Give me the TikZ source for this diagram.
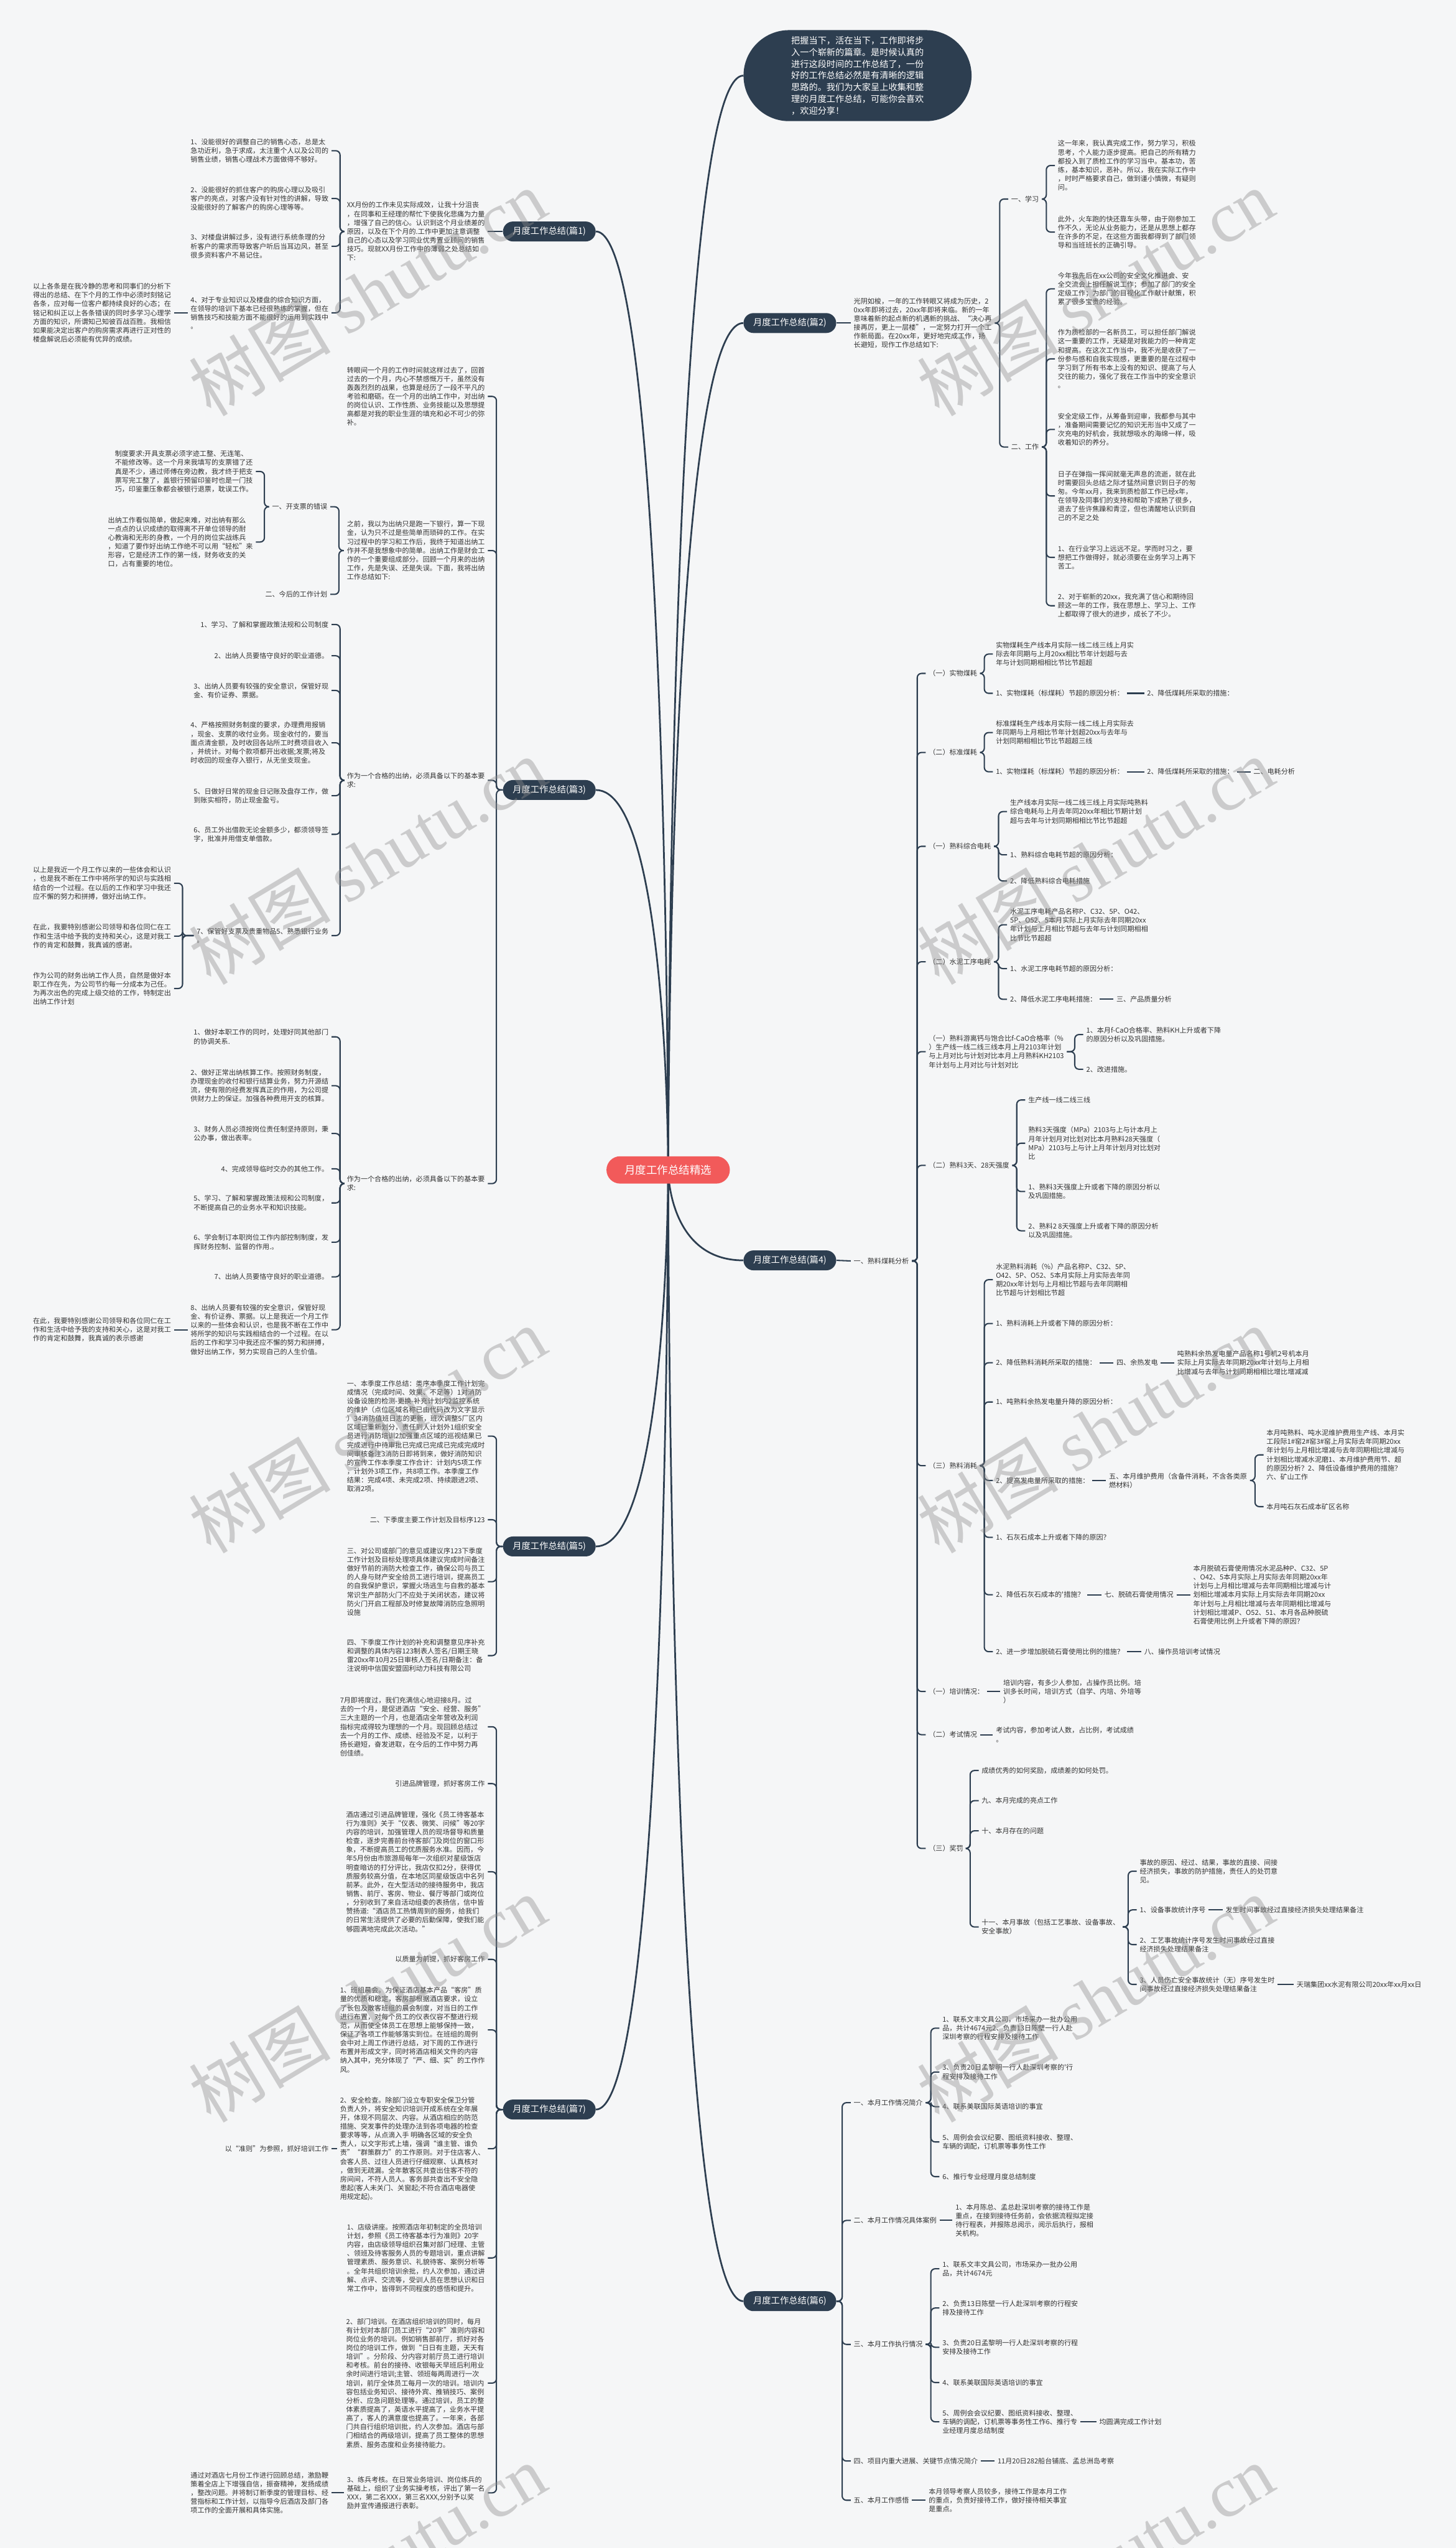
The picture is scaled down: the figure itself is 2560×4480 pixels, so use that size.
\documentclass[tikz,border=0pt]{standalone}
\usepackage{fontspec}
\usetikzlibrary{backgrounds}
\newfontfamily\cjk{Noto Sans CJK SC}
\newfontfamily\wmlatin{Liberation Serif}
\definecolor{navy}{HTML}{2D3E50}
\definecolor{rootred}{HTML}{F25A5A}
\definecolor{leaftext}{HTML}{333333}
\definecolor{paper}{HTML}{F5F6F7}
\newcommand\leaffont{\cjk\fontsize{6.9pt}{8.8pt}\selectfont}

\begin{document}
\begin{tikzpicture}[x=0.2mm, y=-0.2mm,
  leaf/.style={font=\leaffont, text=leaftext, align=left, inner xsep=1mm, inner ysep=0.5mm},
  lleaf/.style={leaf, anchor=east},
  rleaf/.style={leaf, anchor=west},
  topic/.style={fill=navy, text=white, font=\cjk\fontsize{8.9pt}{10.7pt}\selectfont, rounded corners=3.5mm, minimum width=32.6mm, minimum height=7mm, inner sep=0pt},
  rootbox/.style={fill=rootred, text=white, font=\cjk\fontsize{10.9pt}{13pt}\selectfont, rounded corners=4.8mm, minimum width=43.4mm, minimum height=9.6mm, inner sep=0pt},
  introbox/.style={fill=navy, text=white, font=\cjk\fontsize{8.85pt}{11.7pt}\selectfont, align=left, rounded corners=16mm, minimum width=80.2mm, minimum height=32mm, inner sep=0pt},
  hook/.style={draw=navy, line width=0.45mm, rounded corners=1.5mm},
  spoke/.style={draw=navy, line width=0.6mm},
  wmark/.style={text=black!45, text opacity=0.4, rotate=31, font=\cjk\fontsize{71pt}{71pt}\selectfont}]
\useasboundingbox (0,0) rectangle (2560,4480);

% centre
\node[rootbox] (root) at (1175,2057) {月度工作总结精选};
\node[introbox] (intro) at (1508,133) {把握当下，活在当下，工作即将步\\入一个崭新的篇章。是时候认真的\\进行这段时间的工作总结了，一份\\好的工作总结必然是有清晰的逻辑\\思路的。我们为大家呈上收集和整\\理的月度工作总结，可能你会喜欢\\，欢迎分享！};

\node[topic] (p1) at (966,407) {月度工作总结(篇1)};
\node[topic] (p3) at (966,1389) {月度工作总结(篇3)};
\node[topic] (p5) at (966,2719) {月度工作总结(篇5)};
\node[topic] (p7) at (966,3709) {月度工作总结(篇7)};
\node[topic] (p2) at (1389,568) {月度工作总结(篇2)};
\node[topic] (p4) at (1389,2216) {月度工作总结(篇4)};
\node[topic] (p6) at (1389,4046) {月度工作总结(篇6)};

% 篇1
\node[lleaf] (p1a) at (858,407) {XX月份的工作未见实际成效，让我十分沮丧\\，在同事和王经理的帮忙下使我化悲痛为力量\\，增强了自己的信心。认识到这个月业绩差的\\原因，以及在下个月的.工作中更加注意调整\\自己的心态以及学习同业优秀置业顾问的销售\\技巧。现就XX月份工作中的薄弱之处总结如\\下:};
\node[lleaf] (p1a1) at (583,265) {1、没能很好的调整自己的销售心态，总是太\\急功近利，急于求成，太注重个人以及公司的\\销售业绩，销售心理战术方面做得不够好。};
\node[lleaf] (p1a2) at (583,349) {2、没能很好的抓住客户的购房心理以及吸引\\客户的亮点，对客户没有针对性的讲解，导致\\没能很好的了解客户的购房心理等等。};
\node[lleaf] (p1a3) at (583,433) {3、对楼盘讲解过多，没有进行系统条理的分\\析客户的需求而导致客户听后当耳边风，甚至\\很多资料客户不易记住。};
\node[lleaf] (p1a4) at (583,550) {4、对于专业知识以及楼盘的综合知识方面，\\在领导的培训下基本已经很熟练的掌握，但在\\销售技巧和技能方面不能很好的运用到实践中\\。};
\node[lleaf] (p1a4a) at (306,550) {以上各条是在我冷静的思考和同事们的分析下\\得出的总结、在下个月的工作中必须时刻铭记\\各条，应对每一位客户都持续良好的心态；在\\铭记和纠正以上各条错误的同时多学习心理学\\方面的知识，所谓知己知彼百战百胜。我相信\\如果能决定出客户的购房需求再进行正对性的\\楼盘解说后必须能有优异的成绩。};

% 篇3
\node[lleaf] (p3a) at (858,697) {转眼间一个月的工作时间就这样过去了，回首\\过去的一个月，内心不禁感慨万千，虽然没有\\轰轰烈烈的战果，也算是经历了一段不平凡的\\考验和磨砺。在一个月的出纳工作中，对出纳\\的岗位认识、工作性质、业务技能以及思想提\\高都是对我的职业生涯的填充和必不可少的弥\\补。};
\node[lleaf] (p3b) at (858,968) {之前，我以为出纳只是跑一下银行，算一下现\\金，认为只不过是些简单而琐碎的工作。在实\\习过程中的学习和工作后，我终于知道出纳工\\作并不是我想象中的简单。出纳工作是财会工\\作的一个重要组成部分。回顾一个月来的出纳\\工作，先是失误、还是失误。下面，我将出纳\\工作总结如下:};
\node[lleaf] (p3b1) at (581,891) {一、开支票的错误};
\node[lleaf] (p3b1a) at (450,829) {制度要求:开具支票必须字迹工整、无连笔、\\不能修改等。这一个月来我填写的支票错了还\\真是不少，通过师傅在旁边教，我才终于把支\\票写完工整了，盖银行预留印鉴时也是一门技\\巧，印鉴重压象都会被银行退票，耽误工作。};
\node[lleaf] (p3b1b) at (450,953) {出纳工作看似简单，做起来难，对出纳有那么\\一点点的认识成绩的取得离不开单位领导的耐\\心教诲和无形的身教，一个月的岗位实战练兵\\，知道了要作好出纳工作绝不可以用“轻松”来\\形容，它是经济工作的第一线，财务收支的关\\口，占有重要的地位。};
\node[lleaf] (p3b2) at (581,1045) {二、今后的工作计划};
\node[lleaf] (p3c) at (858,1372) {作为一个合格的出纳，必须具备以下的基本要\\求:};
\node[lleaf] (p3c1) at (583,1098) {1、学习、了解和掌握政策法规和公司制度};
\node[lleaf] (p3c2) at (583,1153) {2、出纳人员要恪守良好的职业道德。};
\node[lleaf] (p3c3) at (583,1214) {3、出纳人员要有较强的安全意识，保管好现\\金、有价证券、票据。};
\node[lleaf] (p3c4) at (583,1306) {4、严格按照财务制度的要求，办理费用报销\\，现金、支票的收付业务。现金收付的，要当\\面点清金额，及时收回各站所工时费项目收入\\，并统计。对每个款项都开出收据;发票;将及\\时收回的现金存入银行，从无坐支现金。};
\node[lleaf] (p3c5) at (583,1399) {5、日做好日常的现金日记账及盘存工作，做\\到账实相符，防止现金盈亏。};
\node[lleaf] (p3c6) at (583,1467) {6、员工外出借款无论金额多少，都须领导签\\字，批准并用借支单借款。};
\node[lleaf] (p3c7) at (583,1645) {7、保管好支票及贵重物品5、熟悉银行业务\\。};
\node[lleaf] (p3c7a) at (306,1553) {以上是我近一个月工作以来的一些体会和认识\\，也是我不断在工作中将所学的知识与实践相\\结合的一个过程。在以后的工作和学习中我还\\应不懈的努力和拼搏，做好出纳工作。};
\node[lleaf] (p3c7b) at (306,1646) {在此，我要特别感谢公司领导和各位同仁在工\\作和生活中给予我的支持和关心，这是对我工\\作的肯定和鼓舞，我真诚的感谢。};
\node[lleaf] (p3c7c) at (306,1738) {作为公司的财务出纳工作人员，自然是做好本\\职工作在先，为公司节约每一分成本为己任。\\为再次出色的完成上级交给的工作，特制定出\\出纳工作计划};
\node[lleaf] (p3d) at (858,2081) {作为一个合格的出纳，必须具备以下的基本要\\求:};
\node[lleaf] (p3d1) at (583,1823) {1、做好本职工作的同时，处理好同其他部门\\的协调关系.};
\node[lleaf] (p3d2) at (583,1909) {2、做好正常出纳核算工作。按照财务制度，\\办理现金的收付和银行结算业务，努力开源结\\流，使有限的经费发挥真正的作用，为公司提\\供财力上的保证。加强各种费用开支的核算。};
\node[lleaf] (p3d3) at (583,1993) {3、财务人员必须按岗位责任制坚持原则，秉\\公办事，做出表率。};
\node[lleaf] (p3d4) at (583,2055) {4、完成领导临时交办的其他工作。};
\node[lleaf] (p3d5) at (583,2115) {5、学习、了解和掌握政策法规和公司制度，\\不断提高自己的业务水平和知识技能。};
\node[lleaf] (p3d6) at (583,2184) {6、学会制订本职岗位工作内部控制制度，发\\挥财务控制、监督的作用.。};
\node[lleaf] (p3d7) at (583,2245) {7、出纳人员要恪守良好的职业道德。};
\node[lleaf] (p3d8) at (583,2338) {8、出纳人员要有较强的安全意识，保管好现\\金、有价证券、票据。以上是我近一个月工作\\以来的一些体会和认识，也是我不断在工作中\\将所学的知识与实践相结合的一个过程。在以\\后的工作和学习中我还应不懈的努力和拼搏，\\做好出纳工作，努力实现自己的人生价值。};
\node[lleaf] (p3d8a) at (306,2338) {在此，我要特别感谢公司领导和各位同仁在工\\作和生活中给予我的支持和关心，这是对我工\\作的肯定和鼓舞，我真诚的表示感谢};

% 篇5
\node[lleaf] (p5a) at (858,2525) {一、本季度工作总结：类序本季度工作计划完\\成情况（完成时间、效果、不足等）1对消防\\设备设施的检测-更换-补充计划内2监控系统\\的维护（点位区域名称已由代码改为文字显示\\）34消防值班日志的更新，班次调整5厂区内\\区域已重新划分，责任到人计划外1组织安全\\员进行消防培训2加强重点区域的巡视结果已\\完成进行中待审批已完成已完成已完成完成时\\间审核备注3消防日即将到来，做好消防知识\\的宣传工作本季度工作合计：计划内5项工作\\，计划外3项工作，共8项工作。本季度工作\\结果：完成4项、未完成2项、持续跟进2项、\\取消2项。};
\node[lleaf] (p5b) at (858,2672) {二、下季度主要工作计划及目标序123};
\node[lleaf] (p5c) at (858,2781) {三、对公司或部门的意见或建议序123下季度\\工作计划及目标处理项具体建议完成时间备注\\做好节前的消防大检查工作，确保公司与员工\\的人身与财产安全给员工进行培训，提高员工\\的自我保护意识，掌握火场逃生与自救的基本\\常识生产部防火门不应处于关闭状态，建议将\\防火门开启工程部及时修复故障消防应急照明\\设施};
\node[lleaf] (p5d) at (858,2911) {四、下季度工作计划的补充和调整意见序补充\\和调整的具体内容123制表人签名/日期王晓\\雷20xx年10月25日审核人签名/日期备注：备\\注说明中信国安盟固利动力科技有限公司};

% 篇7
\node[lleaf] (p7a) at (858,3036) {7月即将度过，我们充满信心地迎接8月。过\\去的一个月，是促进酒店“安全、经营、服务”\\三大主题的一个月，也是酒店全年营收及利润\\指标完成得较为理想的一个月。现回顾总结过\\去一个月的工作、成绩、经验及不足，以利于\\扬长避短，奋发进取，在今后的工作中努力再\\创佳绩。};
\node[lleaf] (p7b) at (858,3136) {引进品牌管理，抓好客房工作};
\node[lleaf] (p7c) at (858,3291) {酒店通过引进品牌管理，强化《员工待客基本\\行为准则》关于“仪表、微笑、问候”等20字\\内容的培训，加强管理人员的现场督导和质量\\检查，逐步完善前台待客部门及岗位的窗口形\\象，不断提高员工的优质服务水准。因而，今\\年5月份由市旅游局每年一次组织对星级饭店\\明查暗访的打分评比，我店仅扣2分，获得优\\质服务较高分值，在本地区同星级饭店中名列\\前茅。此外，在大型活动的接待服务中，我店\\销售、前厅、客房、物业、餐厅等部门或岗位\\，分别收到了来自活动组委的表扬信，信中皆\\赞扬道:“酒店员工热情周到的服务，给我们\\的日常生活提供了必要的后勤保障，使我们能\\够圆满地完成此次活动。”};
\node[lleaf] (p7d) at (858,3445) {以质量为前提，抓好客房工作};
\node[lleaf] (p7e) at (858,3569) {1、班组晨会。为保证酒店基本产品“客房”质\\量的优质和稳定，客房部根据酒店要求，设立\\了长包及散客班组的晨会制度，对当日的工作\\进行布置，对每个员工的仪表仪容不整进行规\\范，从而使全体员工在思想上能够保持一致，\\保证了各项工作能够落实到位。在班组的周例\\会中对上周工作进行总结，对下周的工作进行\\布置并形成文字，同时将酒店相关文件的内容\\纳入其中，充分体现了“严、细、实”的工作作\\风。};
\node[lleaf] (p7f) at (858,3778) {2、安全检查。除部门设立专职安全保卫分管\\负责人外，将安全知识培训开成系统在全年展\\开，体现不同层次、内容。从酒店相应的防范\\措施、突发事件的处理办法到各项电器的检查\\要求等等，从点滴入手 明确各区域的安全负\\责人，以文字形式上墙，强调“谁主管、谁负\\责”“群策群力”的工作原则。对于住店客人、\\会客人员、过往人员进行仔细观察、认真核对\\，做到无疏漏。全年散客区共查出住客不符的\\房间间，不符人员人。客务部共查出不安全隐\\患起(客人未关门、关窗起;不符合酒店电器使\\用规定起)。};
\node[lleaf] (p7fa) at (583,3778) {以“准则”为参照，抓好培训工作};
\node[lleaf] (p7g) at (858,3970) {1、店级讲座。按照酒店年初制定的全员培训\\计划，参照《员工待客基本行为准则》20字\\内容，由店级领导组织召集对部门经理、主管\\、领班及待客服务人员的专题培训，重点讲解\\管理素质、服务意识、礼貌待客、案例分析等\\。全年共组织培训余批，约人次参加，通过讲\\解、点评、交流等，受训人员在思想认识和日\\常工作中，皆得到不同程度的感悟和提升。};
\node[lleaf] (p7h) at (858,4190) {2、部门培训。在酒店组织培训的同时，每月\\有计划对本部门员工进行“20字”准则内容和\\岗位业务的培训。例如销售部前厅，抓好对各\\岗位的培训工作，做到“日日有主题，天天有\\培训”。分阶段、分内容对前厅员工进行培训\\和考核。前台的接待、收银每天早班后利用业\\余时间进行培训;主管、领班每两周进行一次\\培训，前厅全体员工每月一次的培训。培训内\\容包括业务知识、接待外宾、推销技巧、案例\\分析、应急问题处理等。通过培训，员工的整\\体素质提高了，英语水平提高了，业务水平提\\高了，客人的满意度也提高了。一年来，各部\\门共自行组织培训批，约人次参加。酒店与部\\门相结合的两级培训，提高了员工整体的思想\\素质、服务态度和业务接待能力。};
\node[lleaf] (p7i) at (858,4383) {3、练兵考核。在日常业务培训、岗位练兵的\\基础上，组织了业务实操考核，评出了第一名\\XXX，第二名XXX，第三名XXX,分别予以奖\\励并宣传通报进行表彰。};
\node[lleaf] (p7ia) at (583,4383) {通过对酒店七月份工作进行回顾总结，激励鞭\\策着全店上下增强自信，振奋精神，发扬成绩\\，整改问题。并将制订新季度的管理目标、经\\营指标和工作计划，以指导今后酒店及部门各\\项工作的全面开展和具体实施。};

% 篇2
\node[rleaf] (p2a) at (1496,568) {光阴如梭，一年的工作转眼又将成为历史，2\\0xx年即将过去，20xx年即将来临。新的一年\\意味着新的起点新的机遇新的挑战、“决心再\\接再厉，更上一层楼”，一定努力打开一个工\\作新局面。在20xx年，更好地完成工作，扬\\长避短，现作工作总结如下:};
\node[rleaf] (p2a1) at (1773,350) {一、学习};
\node[rleaf] (p2a1a) at (1855,291) {这一年来，我认真完成工作，努力学习，积极\\思考，个人能力逐步提高。把自己的所有精力\\都投入到了质检工作的学习当中。基本功，苦\\练，基本知识，恶补。所以，我在实际工作中\\，时时严格要求自己，做到谨小慎微，有疑则\\问。};
\node[rleaf] (p2a1b) at (1855,408) {此外，火车跑的快还靠车头带，由于刚参加工\\作不久，无论从业务能力，还是从思想上都存\\在许多的不足，在这些方面我都得到了部门领\\导和当班班长的正确引导。};
\node[rleaf] (p2a2) at (1773,786) {二、工作};
\node[rleaf] (p2a2a) at (1855,508) {今年我先后在xx公司的安全文化推进会、安\\全交流会上担任解说工作；参加了部门的安全\\定级工作；为部门的目视化工作献计献策，积\\累了很多宝贵的经验。};
\node[rleaf] (p2a2b) at (1855,631) {作为质检部的一名新员工，可以担任部门解说\\这一重要的工作，无疑是对我能力的一种肯定\\和提高。在这次工作当中，我不光是收获了一\\份参与感和自我实现感，更重要的是在过程中\\学习到了所有书本上没有的知识、提高了与人\\交往的能力，强化了我在工作当中的安全意识\\。};
\node[rleaf] (p2a2c) at (1855,755) {安全定级工作，从筹备到迎审，我都参与其中\\，准备期间需要记忆的知识无形当中又成了一\\次充电的好机会，我就想吸水的海绵一样，吸\\收着知识的养分。};
\node[rleaf] (p2a2d) at (1855,872) {日子在弹指一挥间就毫无声息的流逝，就在此\\时需要回头总结之际才猛然间意识到日子的匆\\匆。今年xx月，我来到质检部工作已经x年，\\在领导及同事们的支持和帮助下成熟了很多，\\退去了些许焦躁和青涩，但也清醒地认识到自\\己的不足之处};
\node[rleaf] (p2a2e) at (1855,980) {1、在行业学习上远远不足。学而时习之，要\\想把工作做得好，就必须要在业务学习上再下\\苦工。};
\node[rleaf] (p2a2f) at (1855,1065) {2、对于崭新的20xx，我充满了信心和期待回\\顾这一年的工作，我在思想上、学习上、工作\\上都取得了很大的进步，成长了不少。};

% 篇4
\node[rleaf] (p4a) at (1496,2217) {一、熟料煤耗分析};
\node[rleaf] (p4b1) at (1628,1184) {（一）实物煤耗};
\node[rleaf] (p4b1a) at (1746,1150) {实物煤耗生产线本月实际一线二线三线上月实\\际去年同期与上月20xx相比节年计划超与去\\年与计划同期相相比节比节超超};
\node[rleaf] (p4b1b) at (1746,1219) {1、实物煤耗（标煤耗）节超的原因分析：};
\node[rleaf] (p4b1c) at (2012,1219) {2、降低煤耗所采取的措施：};
\node[rleaf] (p4b2) at (1628,1323) {（二）标准煤耗};
\node[rleaf] (p4b2a) at (1746,1288) {标准煤耗生产线本月实际一线二线上月实际去\\年同期与上月相比节年计划超20xx与去年与\\计划同期相相比节比节超超三线};
\node[rleaf] (p4b2b) at (1746,1357) {1、实物煤耗（标煤耗）节超的原因分析：};
\node[rleaf] (p4b2c) at (2012,1357) {2、降低煤耗所采取的措施：};
\node[rleaf] (p4b2d) at (2199,1357) {二、电耗分析};
\node[rleaf] (p4b3) at (1628,1488) {（一）熟料综合电耗};
\node[rleaf] (p4b3a) at (1771,1427) {生产线本月实际一线二线三线上月实际吨熟料\\综合电耗与上月去年同20xx年相比节期计划\\超与去年与计划同期相相比节比节超超};
\node[rleaf] (p4b3b) at (1771,1503) {1、熟料综合电耗节超的原因分析：};
\node[rleaf] (p4b3c) at (1771,1549) {2、降低熟料综合电耗措施};
\node[rleaf] (p4b4) at (1628,1691) {（二）水泥工序电耗};
\node[rleaf] (p4b4a) at (1771,1626) {水泥工序电耗产品名称P、C32、5P、O42、\\5P、O52、5本月实际上月实际去年同期20xx\\年计划与上月相比节超与去年与计划同期相相\\比节比节超超};
\node[rleaf] (p4b4b) at (1771,1703) {1、水泥工序电耗节超的原因分析：};
\node[rleaf] (p4b4c) at (1771,1757) {2、降低水泥工序电耗措施：};
\node[rleaf] (p4b4d) at (1958,1757) {三、产品质量分析};
\node[rleaf] (p4b5) at (1628,1849) {（一）熟料游离钙与饱合比f-CaO合格率（\%\\）生产线一线二线三线本月上月2103年计划\\与上月对比与计划对比本月上月熟料KH2103\\年计划与上月对比与计划对比};
\node[rleaf] (p4b5a) at (1905,1819) {1、本月f-CaO合格率、熟料KH上升或者下降\\的原因分析以及巩固措施。};
\node[rleaf] (p4b5b) at (1905,1880) {2、改进措施。};
\node[rleaf] (p4b6) at (1628,2049) {（二）熟料3天、28天强度};
\node[rleaf] (p4b6a) at (1803,1934) {生产线一线二线三线};
\node[rleaf] (p4b6b) at (1803,2010) {熟料3天强度（MPa）2103与上与计本月上\\月年计划月对比划对比本月熟料28天强度（\\MPa）2103与上与计上月年计划月对比划对\\比};
\node[rleaf] (p4b6c) at (1803,2095) {1、熟料3天强度上升或者下降的原因分析以\\及巩固措施。};
\node[rleaf] (p4b6d) at (1803,2164) {2、熟料2 8天强度上升或者下降的原因分析\\以及巩固措施。};
\node[rleaf] (p4b7) at (1628,2577) {（三）熟料消耗};
\node[rleaf] (p4b7a) at (1746,2250) {水泥熟料消耗（\%）产品名称P、C32、5P、\\O42、5P、O52、5本月实际上月实际去年同\\期20xx年计划与上月相比节超与去年同期相\\比节超与计划相比节超};
\node[rleaf] (p4b7b) at (1746,2327) {1、熟料消耗上升或者下降的原因分析：};
\node[rleaf] (p4b7c) at (1746,2396) {2、降低熟料消耗所采取的措施：};
\node[rleaf] (p4b7c1) at (1958,2396) {四、余热发电};
\node[rleaf] (p4b7c2) at (2065,2396) {吨熟料余热发电量产品名称1号机2号机本月\\实际上月实际去年同期20xx年计划与上月相\\比增减与去年与计划同期相相比增比增减减};
\node[rleaf] (p4b7d) at (1746,2465) {1、吨熟料余热发电量升降的原因分析：};
\node[rleaf] (p4b7e) at (1746,2603) {2、提高发电量所采取的措施：};
\node[rleaf] (p4b7e1) at (1945,2603) {五、本月维护费用（含备件消耗，不含各类原\\燃材料）};
\node[rleaf] (p4b7e2) at (2222,2558) {本月吨熟料、吨水泥维护费用生产线、本月实\\工段际1\#窑2\#窑3\#窑上月实际去年同期20xx\\年计划与上月相比增减与去年同期相比增减与\\计划相比增减水泥磨1、本月维护费用节、超\\的原因分析？2、降低设备维护费用的措施？\\六、矿山工作};
\node[rleaf] (p4b7e3) at (2222,2649) {本月吨石灰石成本矿区名称};
\node[rleaf] (p4b7f) at (1746,2703) {1、石灰石成本上升或者下降的原因？};
\node[rleaf] (p4b7g) at (1746,2804) {2、降低石灰石成本的'措施？};
\node[rleaf] (p4b7g1) at (1937,2804) {七、脱硫石膏使用情况};
\node[rleaf] (p4b7g2) at (2093,2804) {本月脱硫石膏使用情况水泥品种P、C32、5P\\、O42、5本月实际上月实际去年同期20xx年\\计划与上月相比增减与去年同期相比增减与计\\划相比增减本月实际上月实际去年同期20xx\\年计划与上月相比增减与去年同期相比增减与\\计划相比增减P、O52、51、本月各品种脱硫\\石膏使用比例上升或者下降的原因？};
\node[rleaf] (p4b7h) at (1746,2904) {2、进一步增加脱硫石膏使用比例的措施？};
\node[rleaf] (p4b7h1) at (2007,2904) {八、操作员培训考试情况};
\node[rleaf] (p4b8) at (1628,2974) {（一）培训情况：};
\node[rleaf] (p4b8a) at (1759,2974) {培训内容，有多少人参加，占操作员比例。培\\训多长时间，培训方式（自学、内培、外培等\\）};
\node[rleaf] (p4b9) at (1628,3050) {（二）考试情况};
\node[rleaf] (p4b9a) at (1746,3050) {考试内容，参加考试人数，占比例，考试成绩\\。};
\node[rleaf] (p4b10) at (1628,3250) {（三）奖罚};
\node[rleaf] (p4c1) at (1721,3113) {成绩优秀的如何奖励，成绩差的如何处罚。};
\node[rleaf] (p4c2) at (1721,3166) {九、本月完成的亮点工作};
\node[rleaf] (p4c3) at (1721,3219) {十、本月存在的问题};
\node[rleaf] (p4c4) at (1721,3388) {十一、本月事故（包括工艺事故、设备事故、\\安全事故）};
\node[rleaf] (p4d1) at (1999,3290) {事故的原因、经过、结果，事故的直接、间接\\经济损失，事故的防护措施，责任人的处罚意\\见。};
\node[rleaf] (p4d2) at (1999,3358) {1、设备事故统计序号};
\node[rleaf] (p4d2a) at (2150,3358) {发生时间事故经过直接经济损失处理结果备注};
\node[rleaf] (p4d3) at (1999,3419) {2、工艺事故统计序号发生时间事故经过直接\\经济损失处理结果备注};
\node[rleaf] (p4d4) at (1999,3489) {3、人员伤亡安全事故统计（无）序号发生时\\间事故经过直接经济损失处理结果备注};
\node[rleaf] (p4d4a) at (2275,3489) {天瑞集团xx水泥有限公司20xx年xx月xx日};

% 篇6
\node[rleaf] (p6a) at (1496,3697) {一、本月工作情况简介};
\node[rleaf] (p6a1) at (1652,3566) {1、联系文丰文具公司，市场采办一批办公用\\品，共计4674元2、负责13日陈壁一行人赴\\深圳考察的行程安排及接待工作};
\node[rleaf] (p6a2) at (1652,3643) {3、负责20日孟黎明一行人赴深圳考察的'行\\程安排及接待工作};
\node[rleaf] (p6a3) at (1652,3704) {4、联系美联国际英语培训的事宜};
\node[rleaf] (p6a4) at (1652,3766) {5、周例会会议纪要、图纸资料接收、整理、\\车辆的调配，订机票等事务性工作};
\node[rleaf] (p6a5) at (1652,3827) {6、推行专业经理月度总结制度};
\node[rleaf] (p6b) at (1496,3904) {二、本月工作情况具体案例};
\node[rleaf] (p6b1) at (1675,3904) {1、本月陈总、孟总赴深圳考察的接待工作是\\重点，在接到接待任务前，会依据流程拟定接\\待行程表，并报陈总阅示，阅示后执行，报相\\关机构。};
\node[rleaf] (p6c) at (1496,4122) {三、本月工作执行情况};
\node[rleaf] (p6c1) at (1652,3989) {1、联系文丰文具公司，市场采办一批办公用\\品，共计4674元};
\node[rleaf] (p6c2) at (1652,4058) {2、负责13日陈壁一行人赴深圳考察的行程安\\排及接待工作};
\node[rleaf] (p6c3) at (1652,4127) {3、负责20日孟黎明一行人赴深圳考察的行程\\安排及接待工作};
\node[rleaf] (p6c4) at (1652,4189) {4、联系美联国际英语培训的事宜};
\node[rleaf] (p6c5) at (1652,4258) {5、周例会会议纪要、图纸资料接收、整理、\\车辆的调配，订机票等事务性工作6、推行专\\业经理月度总结制度};
\node[rleaf] (p6c5a) at (1928,4258) {均圆满完成工作计划};
\node[rleaf] (p6d) at (1496,4327) {四、项目内重大进展、关键节点情况简介};
\node[rleaf] (p6d1) at (1749,4327) {11月20日282船台铺底、孟总洲岛考察};
\node[rleaf] (p6e) at (1496,4396) {五、本月工作感悟};
\node[rleaf] (p6e1) at (1628,4396) {本月领导考察人员较多，接待工作是本月工作\\的重点，负责好接待工作，做好接待相关事宜\\是重点。};

\begin{scope}[on background layer]
\fill[paper] (0,0) rectangle (2560,4480);
% spokes from the centre
\draw[spoke] (root.center) .. controls (root.center) and (root.center |- intro.west) .. (intro.west);
\draw[spoke] (root.center) .. controls (root.center) and (root.center |- p2.west) .. (p2.west);
\draw[spoke] (root.center) .. controls (root.center) and (root.center |- p4.west) .. (p4.west);
\draw[spoke] (root.center) .. controls (root.center) and (root.center |- p6.west) .. (p6.west);
\draw[spoke] (root.center) .. controls (root.center) and (root.center |- p1.east) .. (p1.east);
\draw[spoke] (root.center) .. controls (root.center) and (root.center |- p3.east) .. (p3.east);
\draw[spoke] (root.center) .. controls (root.center) and (root.center |- p5.east) .. (p5.east);
\draw[spoke] (root.center) .. controls (root.center) and (root.center |- p7.east) .. (p7.east);

% left side
\draw[hook] (p1.west) -- (p1a.east);
\draw[hook] (p1a.west) -| ([xshift=3mm]p1a1.east) -- (p1a1.east);
\draw[hook] (p1a.west) -| ([xshift=3mm]p1a2.east) -- (p1a2.east);
\draw[hook] (p1a.west) -| ([xshift=3mm]p1a3.east) -- (p1a3.east);
\draw[hook] (p1a.west) -| ([xshift=3mm]p1a4.east) -- (p1a4.east);
\draw[hook] (p1a4.west) -- (p1a4a.east);

\draw[hook] (p3.west) -| ([xshift=3mm]p3a.east) -- (p3a.east);
\draw[hook] (p3.west) -| ([xshift=3mm]p3b.east) -- (p3b.east);
\draw[hook] (p3.west) -| ([xshift=3mm]p3c.east) -- (p3c.east);
\draw[hook] (p3.west) -| ([xshift=3mm]p3d.east) -- (p3d.east);
\draw[hook] (p3b.west) -| ([xshift=3mm]p3b1.east) -- (p3b1.east);
\draw[hook] (p3b.west) -| ([xshift=3mm]p3b2.east) -- (p3b2.east);
\draw[hook] (p3b1.west) -| ([xshift=3mm]p3b1a.east) -- (p3b1a.east);
\draw[hook] (p3b1.west) -| ([xshift=3mm]p3b1b.east) -- (p3b1b.east);
\draw[hook] (p3c.west) -| ([xshift=3mm]p3c1.east) -- (p3c1.east);
\draw[hook] (p3c.west) -| ([xshift=3mm]p3c2.east) -- (p3c2.east);
\draw[hook] (p3c.west) -| ([xshift=3mm]p3c3.east) -- (p3c3.east);
\draw[hook] (p3c.west) -| ([xshift=3mm]p3c4.east) -- (p3c4.east);
\draw[hook] (p3c.west) -| ([xshift=3mm]p3c5.east) -- (p3c5.east);
\draw[hook] (p3c.west) -| ([xshift=3mm]p3c6.east) -- (p3c6.east);
\draw[hook] (p3c.west) -| ([xshift=3mm]p3c7.east) -- (p3c7.east);
\draw[hook] (p3c7.west) -| ([xshift=3mm]p3c7a.east) -- (p3c7a.east);
\draw[hook] (p3c7.west) -| ([xshift=3mm]p3c7b.east) -- (p3c7b.east);
\draw[hook] (p3c7.west) -| ([xshift=3mm]p3c7c.east) -- (p3c7c.east);
\draw[hook] (p3d.west) -| ([xshift=3mm]p3d1.east) -- (p3d1.east);
\draw[hook] (p3d.west) -| ([xshift=3mm]p3d2.east) -- (p3d2.east);
\draw[hook] (p3d.west) -| ([xshift=3mm]p3d3.east) -- (p3d3.east);
\draw[hook] (p3d.west) -| ([xshift=3mm]p3d4.east) -- (p3d4.east);
\draw[hook] (p3d.west) -| ([xshift=3mm]p3d5.east) -- (p3d5.east);
\draw[hook] (p3d.west) -| ([xshift=3mm]p3d6.east) -- (p3d6.east);
\draw[hook] (p3d.west) -| ([xshift=3mm]p3d7.east) -- (p3d7.east);
\draw[hook] (p3d.west) -| ([xshift=3mm]p3d8.east) -- (p3d8.east);
\draw[hook] (p3d8.west) -- (p3d8a.east);

\draw[hook] (p5.west) -| ([xshift=3mm]p5a.east) -- (p5a.east);
\draw[hook] (p5.west) -| ([xshift=3mm]p5b.east) -- (p5b.east);
\draw[hook] (p5.west) -| ([xshift=3mm]p5c.east) -- (p5c.east);
\draw[hook] (p5.west) -| ([xshift=3mm]p5d.east) -- (p5d.east);

\draw[hook] (p7.west) -| ([xshift=3mm]p7a.east) -- (p7a.east);
\draw[hook] (p7.west) -| ([xshift=3mm]p7b.east) -- (p7b.east);
\draw[hook] (p7.west) -| ([xshift=3mm]p7c.east) -- (p7c.east);
\draw[hook] (p7.west) -| ([xshift=3mm]p7d.east) -- (p7d.east);
\draw[hook] (p7.west) -| ([xshift=3mm]p7e.east) -- (p7e.east);
\draw[hook] (p7.west) -| ([xshift=3mm]p7f.east) -- (p7f.east);
\draw[hook] (p7.west) -| ([xshift=3mm]p7g.east) -- (p7g.east);
\draw[hook] (p7.west) -| ([xshift=3mm]p7h.east) -- (p7h.east);
\draw[hook] (p7.west) -| ([xshift=3mm]p7i.east) -- (p7i.east);
\draw[hook] (p7f.west) -- (p7fa.east);
\draw[hook] (p7i.west) -- (p7ia.east);

% right side
\draw[hook] (p2.east) -- (p2a.west);
\draw[hook] (p2a.east) -| ([xshift=-3mm]p2a1.west) -- (p2a1.west);
\draw[hook] (p2a.east) -| ([xshift=-3mm]p2a2.west) -- (p2a2.west);
\draw[hook] (p2a1.east) -| ([xshift=-3mm]p2a1a.west) -- (p2a1a.west);
\draw[hook] (p2a1.east) -| ([xshift=-3mm]p2a1b.west) -- (p2a1b.west);
\draw[hook] (p2a2.east) -| ([xshift=-3mm]p2a2a.west) -- (p2a2a.west);
\draw[hook] (p2a2.east) -| ([xshift=-3mm]p2a2b.west) -- (p2a2b.west);
\draw[hook] (p2a2.east) -| ([xshift=-3mm]p2a2c.west) -- (p2a2c.west);
\draw[hook] (p2a2.east) -| ([xshift=-3mm]p2a2d.west) -- (p2a2d.west);
\draw[hook] (p2a2.east) -| ([xshift=-3mm]p2a2e.west) -- (p2a2e.west);
\draw[hook] (p2a2.east) -| ([xshift=-3mm]p2a2f.west) -- (p2a2f.west);

\draw[hook] (p4.east) -- (p4a.west);
\draw[hook] (p4a.east) -| ([xshift=-3mm]p4b1.west) -- (p4b1.west);
\draw[hook] (p4a.east) -| ([xshift=-3mm]p4b2.west) -- (p4b2.west);
\draw[hook] (p4a.east) -| ([xshift=-3mm]p4b3.west) -- (p4b3.west);
\draw[hook] (p4a.east) -| ([xshift=-3mm]p4b4.west) -- (p4b4.west);
\draw[hook] (p4a.east) -| ([xshift=-3mm]p4b5.west) -- (p4b5.west);
\draw[hook] (p4a.east) -| ([xshift=-3mm]p4b6.west) -- (p4b6.west);
\draw[hook] (p4a.east) -| ([xshift=-3mm]p4b7.west) -- (p4b7.west);
\draw[hook] (p4a.east) -| ([xshift=-3mm]p4b8.west) -- (p4b8.west);
\draw[hook] (p4a.east) -| ([xshift=-3mm]p4b9.west) -- (p4b9.west);
\draw[hook] (p4a.east) -| ([xshift=-3mm]p4b10.west) -- (p4b10.west);
\draw[hook] (p4b1.east) -| ([xshift=-3mm]p4b1a.west) -- (p4b1a.west);
\draw[hook] (p4b1.east) -| ([xshift=-3mm]p4b1b.west) -- (p4b1b.west);
\draw[hook] (p4b1b.east) -- (p4b1c.west);
\draw[hook] (p4b2.east) -| ([xshift=-3mm]p4b2a.west) -- (p4b2a.west);
\draw[hook] (p4b2.east) -| ([xshift=-3mm]p4b2b.west) -- (p4b2b.west);
\draw[hook] (p4b2b.east) -- (p4b2c.west);
\draw[hook] (p4b2c.east) -- (p4b2d.west);
\draw[hook] (p4b3.east) -| ([xshift=-3mm]p4b3a.west) -- (p4b3a.west);
\draw[hook] (p4b3.east) -| ([xshift=-3mm]p4b3b.west) -- (p4b3b.west);
\draw[hook] (p4b3.east) -| ([xshift=-3mm]p4b3c.west) -- (p4b3c.west);
\draw[hook] (p4b4.east) -| ([xshift=-3mm]p4b4a.west) -- (p4b4a.west);
\draw[hook] (p4b4.east) -| ([xshift=-3mm]p4b4b.west) -- (p4b4b.west);
\draw[hook] (p4b4.east) -| ([xshift=-3mm]p4b4c.west) -- (p4b4c.west);
\draw[hook] (p4b4c.east) -- (p4b4d.west);
\draw[hook] (p4b5.east) -| ([xshift=-3mm]p4b5a.west) -- (p4b5a.west);
\draw[hook] (p4b5.east) -| ([xshift=-3mm]p4b5b.west) -- (p4b5b.west);
\draw[hook] (p4b6.east) -| ([xshift=-3mm]p4b6a.west) -- (p4b6a.west);
\draw[hook] (p4b6.east) -| ([xshift=-3mm]p4b6b.west) -- (p4b6b.west);
\draw[hook] (p4b6.east) -| ([xshift=-3mm]p4b6c.west) -- (p4b6c.west);
\draw[hook] (p4b6.east) -| ([xshift=-3mm]p4b6d.west) -- (p4b6d.west);
\draw[hook] (p4b7.east) -| ([xshift=-3mm]p4b7a.west) -- (p4b7a.west);
\draw[hook] (p4b7.east) -| ([xshift=-3mm]p4b7b.west) -- (p4b7b.west);
\draw[hook] (p4b7.east) -| ([xshift=-3mm]p4b7c.west) -- (p4b7c.west);
\draw[hook] (p4b7.east) -| ([xshift=-3mm]p4b7d.west) -- (p4b7d.west);
\draw[hook] (p4b7.east) -| ([xshift=-3mm]p4b7e.west) -- (p4b7e.west);
\draw[hook] (p4b7.east) -| ([xshift=-3mm]p4b7f.west) -- (p4b7f.west);
\draw[hook] (p4b7.east) -| ([xshift=-3mm]p4b7g.west) -- (p4b7g.west);
\draw[hook] (p4b7.east) -| ([xshift=-3mm]p4b7h.west) -- (p4b7h.west);
\draw[hook] (p4b7c.east) -- (p4b7c1.west);
\draw[hook] (p4b7c1.east) -- (p4b7c2.west);
\draw[hook] (p4b7e.east) -- (p4b7e1.west);
\draw[hook] (p4b7e1.east) -| ([xshift=-3mm]p4b7e2.west) -- (p4b7e2.west);
\draw[hook] (p4b7e1.east) -| ([xshift=-3mm]p4b7e3.west) -- (p4b7e3.west);
\draw[hook] (p4b7g.east) -- (p4b7g1.west);
\draw[hook] (p4b7g1.east) -- (p4b7g2.west);
\draw[hook] (p4b7h.east) -- (p4b7h1.west);
\draw[hook] (p4b8.east) -- (p4b8a.west);
\draw[hook] (p4b9.east) -- (p4b9a.west);
\draw[hook] (p4b10.east) -| ([xshift=-3mm]p4c1.west) -- (p4c1.west);
\draw[hook] (p4b10.east) -| ([xshift=-3mm]p4c2.west) -- (p4c2.west);
\draw[hook] (p4b10.east) -| ([xshift=-3mm]p4c3.west) -- (p4c3.west);
\draw[hook] (p4b10.east) -| ([xshift=-3mm]p4c4.west) -- (p4c4.west);
\draw[hook] (p4c4.east) -| ([xshift=-3mm]p4d1.west) -- (p4d1.west);
\draw[hook] (p4c4.east) -| ([xshift=-3mm]p4d2.west) -- (p4d2.west);
\draw[hook] (p4c4.east) -| ([xshift=-3mm]p4d3.west) -- (p4d3.west);
\draw[hook] (p4c4.east) -| ([xshift=-3mm]p4d4.west) -- (p4d4.west);
\draw[hook] (p4d2.east) -- (p4d2a.west);
\draw[hook] (p4d4.east) -- (p4d4a.west);

\draw[hook] (p6.east) -| ([xshift=-3mm]p6a.west) -- (p6a.west);
\draw[hook] (p6.east) -| ([xshift=-3mm]p6b.west) -- (p6b.west);
\draw[hook] (p6.east) -| ([xshift=-3mm]p6c.west) -- (p6c.west);
\draw[hook] (p6.east) -| ([xshift=-3mm]p6d.west) -- (p6d.west);
\draw[hook] (p6.east) -| ([xshift=-3mm]p6e.west) -- (p6e.west);
\draw[hook] (p6a.east) -| ([xshift=-3mm]p6a1.west) -- (p6a1.west);
\draw[hook] (p6a.east) -| ([xshift=-3mm]p6a2.west) -- (p6a2.west);
\draw[hook] (p6a.east) -| ([xshift=-3mm]p6a3.west) -- (p6a3.west);
\draw[hook] (p6a.east) -| ([xshift=-3mm]p6a4.west) -- (p6a4.west);
\draw[hook] (p6a.east) -| ([xshift=-3mm]p6a5.west) -- (p6a5.west);
\draw[hook] (p6b.east) -- (p6b1.west);
\draw[hook] (p6c.east) -| ([xshift=-3mm]p6c1.west) -- (p6c1.west);
\draw[hook] (p6c.east) -| ([xshift=-3mm]p6c2.west) -- (p6c2.west);
\draw[hook] (p6c.east) -| ([xshift=-3mm]p6c3.west) -- (p6c3.west);
\draw[hook] (p6c.east) -| ([xshift=-3mm]p6c4.west) -- (p6c4.west);
\draw[hook] (p6c.east) -| ([xshift=-3mm]p6c5.west) -- (p6c5.west);
\draw[hook] (p6c5.east) -- (p6c5a.west);
\draw[hook] (p6d.east) -- (p6d1.west);
\draw[hook] (p6e.east) -- (p6e1.west);
\end{scope}

% watermark
\node[wmark] (wm1) at (646,514) {树图 {\wmlatin shutu.cn}};
\node[wmark] (wm2) at (1926,514) {树图 {\wmlatin shutu.cn}};
\node[wmark] (wm3) at (646,1514) {树图 {\wmlatin shutu.cn}};
\node[wmark] (wm4) at (1926,1514) {树图 {\wmlatin shutu.cn}};
\node[wmark] (wm5) at (646,2514) {树图 {\wmlatin shutu.cn}};
\node[wmark] (wm6) at (1926,2514) {树图 {\wmlatin shutu.cn}};
\node[wmark] (wm7) at (646,3514) {树图 {\wmlatin shutu.cn}};
\node[wmark] (wm8) at (1926,3514) {树图 {\wmlatin shutu.cn}};
\node[wmark] (wm9) at (646,4514) {树图 {\wmlatin shutu.cn}};
\node[wmark] (wm10) at (1926,4514) {树图 {\wmlatin shutu.cn}};
\end{tikzpicture}
\end{document}
